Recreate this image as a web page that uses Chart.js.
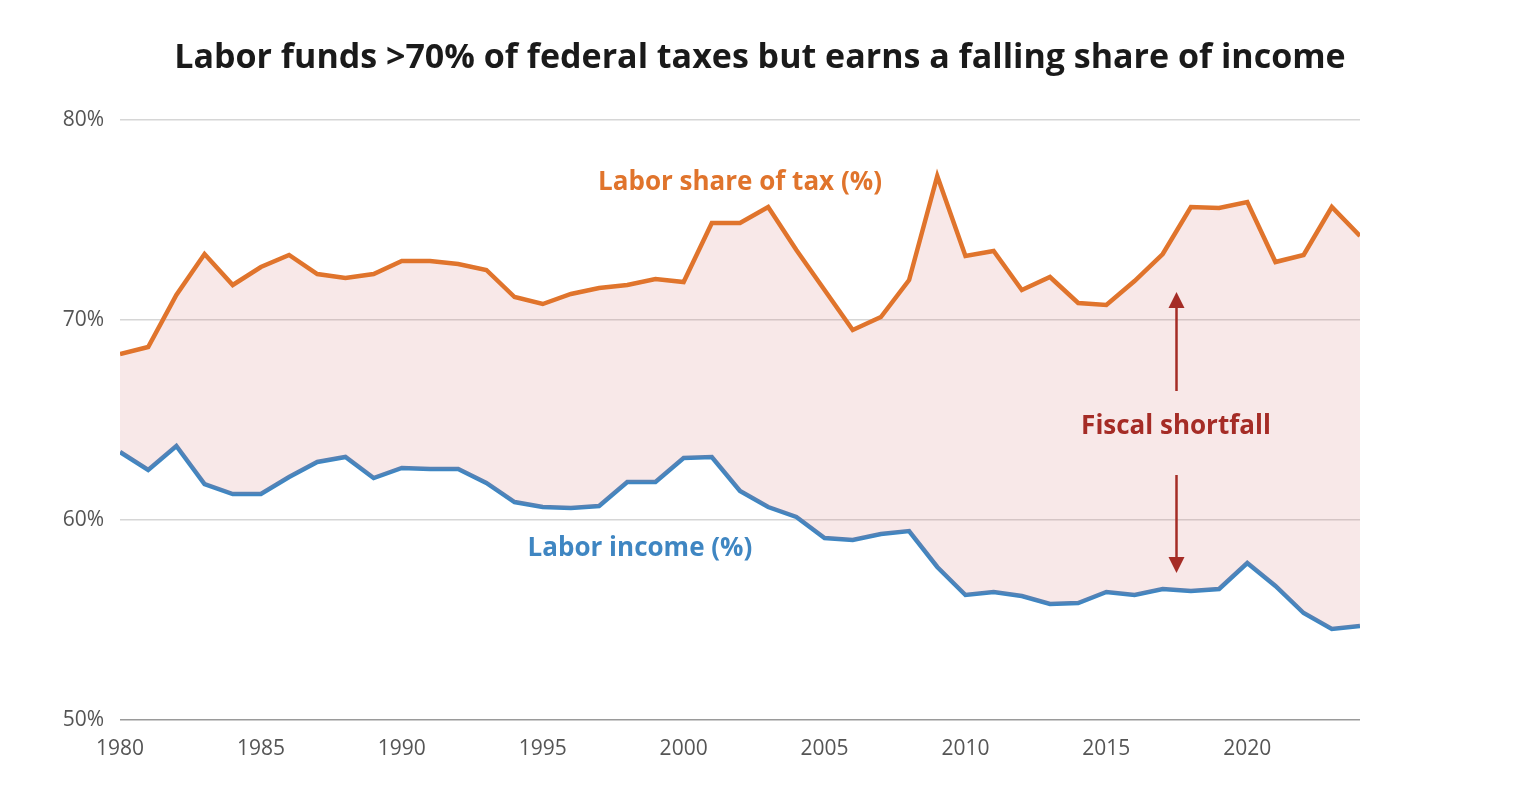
<!DOCTYPE html>
<html>
<head>
<meta charset="utf-8">
<script src="https://cdn.jsdelivr.net/npm/chart.js@4.4.1/dist/chart.umd.min.js"></script>
<style>
    html, body { margin: 0; padding: 0; background: #fff; }
    #wrap { width: 1520px; height: 800px; }
</style>
</head>
<body>
<div id="wrap"><canvas id="chart" width="1520" height="800"></canvas></div>
<script>
const years = [1980, 1981, 1982, 1983, 1984, 1985, 1986, 1987, 1988, 1989,
    1990, 1991, 1992, 1993, 1994, 1995, 1996, 1997, 1998, 1999,
    2000, 2001, 2002, 2003, 2004, 2005, 2006, 2007, 2008, 2009,
    2010, 2011, 2012, 2013, 2014, 2015, 2016, 2017, 2018, 2019,
    2020, 2021, 2022, 2023, 2024];

const laborTaxShare = [68.3, 68.65, 71.25, 73.3, 71.75, 72.65, 73.25, 72.3, 72.1, 72.3,
    72.95, 72.95, 72.8, 72.5, 71.15, 70.8, 71.3, 71.6, 71.75, 72.05,
    71.9, 74.85, 74.85, 75.65, 73.5, 71.5, 69.5, 70.15, 72.0, 77.2,
    73.2, 73.45, 71.5, 72.15, 70.85, 70.75, 71.95, 73.3, 75.65, 75.6,
    75.9, 72.9, 73.25, 75.65, 74.2];

const laborIncome = [63.4, 62.5, 63.7, 61.8, 61.3, 61.3, 62.15, 62.9, 63.15, 62.1,
    62.6, 62.55, 62.55, 61.85, 60.9, 60.65, 60.6, 60.7, 61.9, 61.9,
    63.1, 63.15, 61.45, 60.65, 60.15, 59.1, 59.0, 59.3, 59.45, 57.65,
    56.25, 56.4, 56.2, 55.8, 55.85, 56.4, 56.25, 56.55, 56.45, 56.55,
    57.85, 56.7, 55.35, 54.55, 54.7];

const yTicks = [50, 60, 70, 80];
const xTicks = [1980, 1985, 1990, 1995, 2000, 2005, 2010, 2015, 2020];

const titleText = "Labor funds >70% of federal taxes but earns a falling share of income";
const FONT = "'Open Sans', 'Noto Sans', sans-serif";
const ORANGE = "#e0742c";
const BLUE = "#3f86c2";
const RED = "#a52c26";

// labels, title and the shortfall arrows, placed in data units
const annotationsPlugin = {
    id: "annotations",
    afterDraw(chart) {
        const ctx = chart.ctx;
        const xs = chart.scales.x;
        const ys = chart.scales.y;
        ctx.save();
        ctx.textAlign = "center";
        ctx.textBaseline = "middle";

        ctx.fillStyle = "#1a1a1a";
        ctx.font = "bold 34px " + FONT;
        ctx.fillText(titleText, chart.width / 2, 58);

        ctx.font = "bold 26px " + FONT;
        ctx.fillStyle = ORANGE;
        ctx.fillText("Labor share of tax (%)", xs.getPixelForValue(2002.0), ys.getPixelForValue(76.85));
        ctx.fillStyle = BLUE;
        ctx.fillText("Labor income (%)", xs.getPixelForValue(1998.45), ys.getPixelForValue(58.55));
        ctx.fillStyle = RED;
        ctx.fillText("Fiscal shortfall", xs.getPixelForValue(2017.47), ys.getPixelForValue(64.65));

        const ax = Math.round(xs.getPixelForValue(2017.47)) + 0.5;
        const drawArrow = (fromVal, tipVal) => {
            const y0 = ys.getPixelForValue(fromVal);
            const tip = ys.getPixelForValue(tipVal);
            const dir = tip < y0 ? 1 : -1;
            ctx.strokeStyle = RED;
            ctx.lineWidth = 2.5;
            ctx.beginPath();
            ctx.moveTo(ax, y0);
            ctx.lineTo(ax, tip + dir * 12);
            ctx.stroke();
            ctx.fillStyle = RED;
            ctx.beginPath();
            ctx.moveTo(ax, tip);
            ctx.lineTo(ax - 8, tip + dir * 16);
            ctx.lineTo(ax + 8, tip + dir * 16);
            ctx.closePath();
            ctx.fill();
        };
        drawArrow(66.45, 71.4);
        drawArrow(62.25, 57.35);
        ctx.restore();
    }
};

const taxPoints = years.map((yr, i) => ({ x: yr, y: laborTaxShare[i] }));
const incomePoints = years.map((yr, i) => ({ x: yr, y: laborIncome[i] }));

new Chart(document.getElementById("chart"), {
    type: "line",
    data: {
        datasets: [
            {
                label: "Labor share of tax (%)",
                data: taxPoints,
                borderColor: ORANGE,
                borderWidth: 4.5,
                pointRadius: 0,
                tension: 0,
                fill: { target: 1 },
                backgroundColor: "rgba(214, 110, 110, 0.16)",
            },
            {
                label: "Labor income (%)",
                data: incomePoints,
                borderColor: BLUE,
                borderWidth: 4.5,
                pointRadius: 0,
                tension: 0,
                fill: false,
            },
        ],
    },
    options: {
        responsive: false,
        animation: false,
        layout: { padding: { top: 120, right: 160, left: 0, bottom: 0 } },
        plugins: {
            legend: { display: false },
            tooltip: { enabled: false },
            title: { display: false },
        },
        scales: {
            x: {
                type: "linear",
                min: 1980,
                max: 2024,
                afterFit: (axis) => { axis.height = 80; },
                afterBuildTicks: (axis) => { axis.ticks = xTicks.map((v) => ({ value: v })); },
                grid: { display: false, drawTicks: false },
                border: { display: false },
                ticks: {
                    padding: 16,
                    color: "#555",
                    font: { family: FONT, size: 21 },
                    callback: (v) => String(v),
                    maxRotation: 0,
                },
            },
            y: {
                min: 50,
                max: 80,
                afterFit: (axis) => { axis.width = 120; },
                afterBuildTicks: (axis) => { axis.ticks = yTicks.map((v) => ({ value: v })); },
                grid: {
                    drawTicks: false,
                    lineWidth: 1.5,
                    color: (c) => (c.tick && c.tick.value === 50 ? "#9a9a9a" : "#d6d6d6"),
                },
                border: { display: false },
                ticks: {
                    padding: 16,
                    color: "#555",
                    font: { family: FONT, size: 21 },
                    callback: (v) => v + "%",
                },
            },
        },
    },
    plugins: [annotationsPlugin],
});
</script>
</body>
</html>
